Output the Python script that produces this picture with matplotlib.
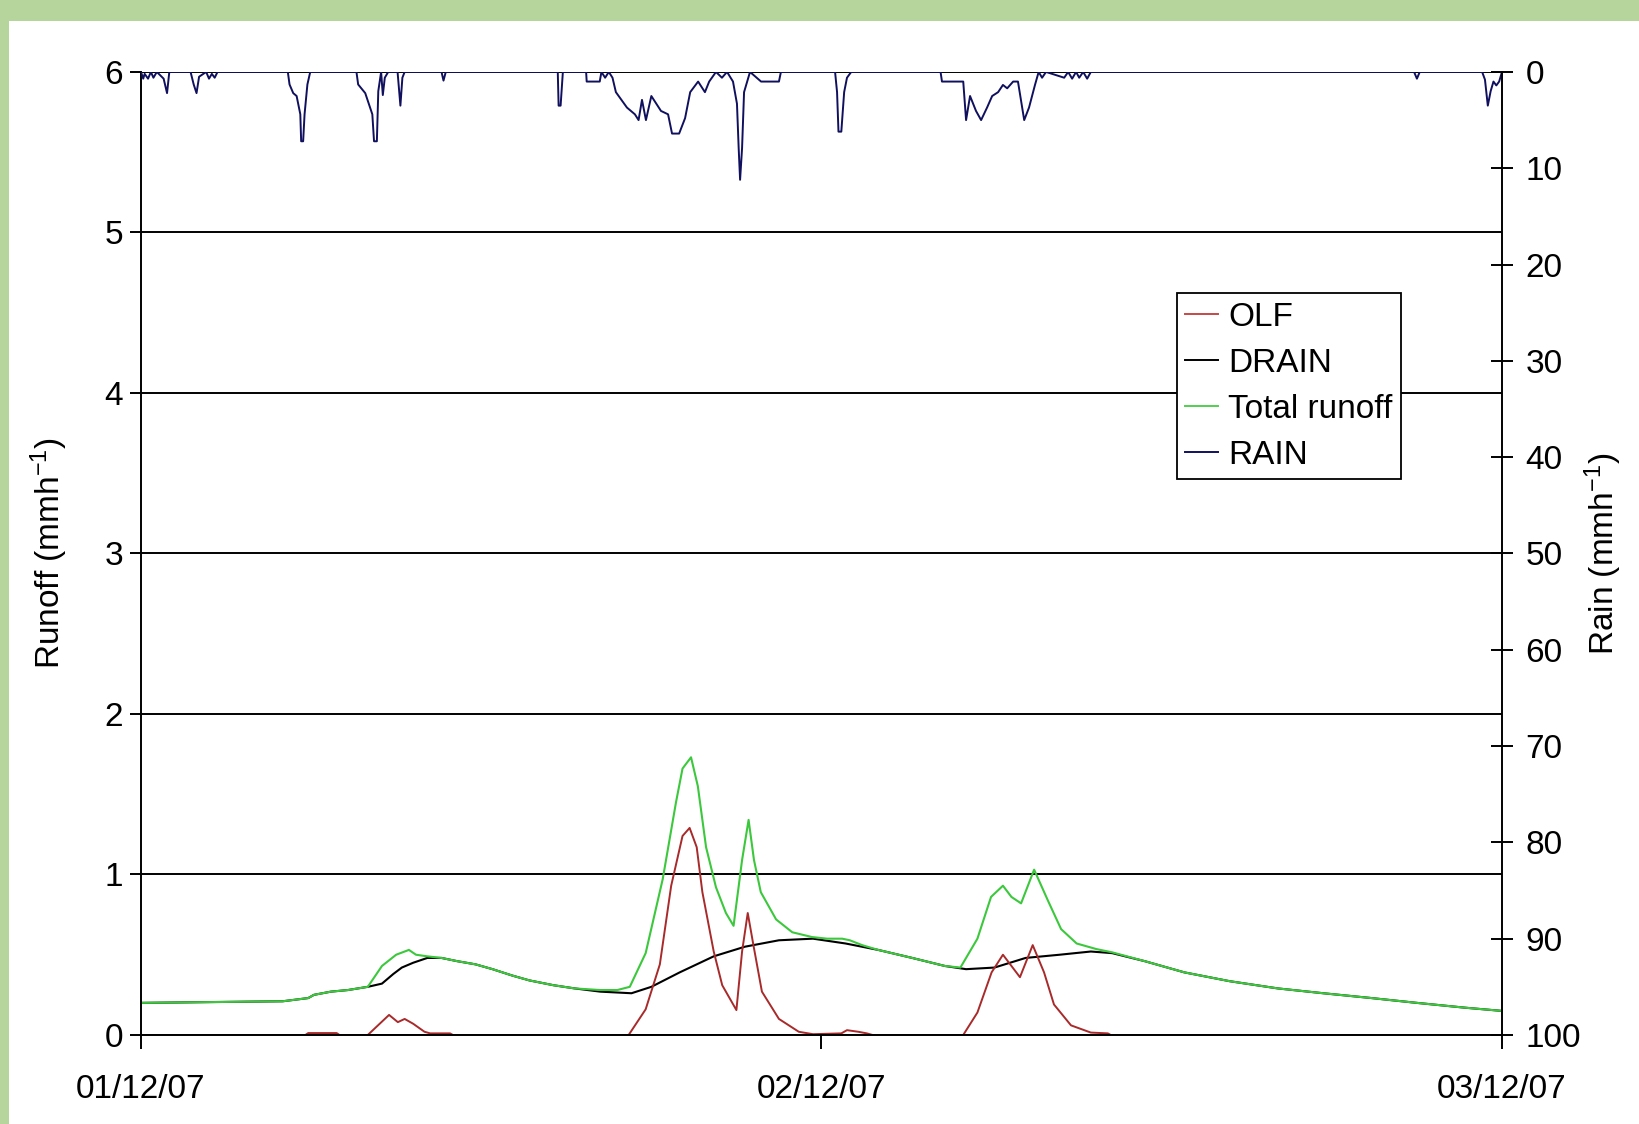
import matplotlib
matplotlib.use('Agg')
import matplotlib.pyplot as plt
from matplotlib.patches import Rectangle
from matplotlib.lines import Line2D

# Runoff data (hours since 01/12/07 00:00, mm/h)
total_t = [0, 5.0, 5.9, 6.1, 6.7, 7.3, 8.0, 8.5, 9.0, 9.45, 9.7, 10.1, 10.6, 11.15, 11.8,
           12.4, 13.1, 13.7, 14.55, 15.3, 16.2, 16.8, 17.24, 17.8, 18.4, 18.87, 19.1, 19.4,
           19.64, 19.93, 20.28, 20.63, 20.9, 21.2, 21.43, 21.62, 21.86, 22.4, 22.97, 23.67,
           24.2, 24.73, 25.0, 25.43, 26.0, 27.2, 28.35, 28.9, 29.5, 29.98, 30.4, 30.7, 31.04,
           31.5, 31.98, 32.45, 33.0, 33.7, 34.25, 35.4, 36.8, 38.4, 40.1, 41.7, 43.4, 45.0,
           46.7, 48.0]
total_v = [0.20, 0.21, 0.23, 0.25, 0.27, 0.28, 0.30, 0.43, 0.50, 0.53, 0.50, 0.49, 0.48, 0.46, 0.44,
           0.41, 0.37, 0.34, 0.31, 0.29, 0.28, 0.28, 0.30, 0.51, 0.97, 1.45, 1.66, 1.73,
           1.55, 1.17, 0.92, 0.76, 0.68, 1.09, 1.34, 1.09, 0.89, 0.72, 0.64, 0.61,
           0.60, 0.60, 0.59, 0.56, 0.53, 0.48, 0.43, 0.42, 0.60, 0.86, 0.93, 0.86, 0.82,
           1.03, 0.84, 0.66, 0.57, 0.535, 0.515, 0.46, 0.39, 0.335, 0.29, 0.26, 0.23, 0.20,
           0.17, 0.15]

drain_t = [0, 5.0, 5.9, 6.1, 6.7, 7.3, 8.0, 8.5, 8.9, 9.2, 9.6, 10.1, 10.6, 11.15, 11.8,
           12.4, 13.1, 13.7, 14.55, 15.3, 16.2, 17.3, 18.0, 19.0, 20.2, 21.3, 22.5, 23.7,
           24.85, 26.0, 27.2, 28.35, 29.1, 30.1, 31.2, 32.4, 33.5, 34.25, 35.4, 36.8, 38.4,
           40.1, 41.7, 43.4, 45.0, 46.7, 48.0]
drain_v = [0.20, 0.21, 0.23, 0.25, 0.27, 0.28, 0.30, 0.32, 0.38, 0.42, 0.45, 0.48, 0.48, 0.46, 0.44,
           0.41, 0.37, 0.34, 0.31, 0.29, 0.27, 0.26, 0.30, 0.39, 0.49, 0.55, 0.59, 0.60,
           0.57, 0.53, 0.48, 0.43, 0.41, 0.42, 0.48, 0.50, 0.52, 0.51, 0.46, 0.39, 0.335,
           0.29, 0.26, 0.23, 0.20, 0.17, 0.15]

olf_t = [0, 5.8, 5.9, 6.9, 7.0, 8.0, 8.3, 8.75, 9.06, 9.3, 9.6, 10.0, 10.2, 10.9, 11.0,
         17.2, 17.8, 18.3, 18.7, 19.1, 19.35, 19.6, 19.8, 20.2, 20.5, 21.0, 21.2, 21.4,
         21.6, 21.9, 22.5, 23.2, 23.7, 24.7, 24.9, 25.3, 25.6, 25.8, 29.0, 29.5, 30.0,
         30.4, 30.7, 31.0, 31.45, 31.85, 32.2, 32.8, 33.5, 34.1, 34.2, 48.0]
olf_v = [0, 0, 0.012, 0.012, 0, 0, 0.05, 0.125, 0.08, 0.10, 0.07, 0.02, 0.01, 0.01, 0,
         0, 0.16, 0.44, 0.93, 1.24, 1.29, 1.17, 0.89, 0.52, 0.31, 0.155, 0.52, 0.76,
         0.56, 0.27, 0.10, 0.02, 0.005, 0.01, 0.03, 0.02, 0.01, 0, 0, 0.14, 0.39,
         0.50, 0.43, 0.36, 0.56, 0.39, 0.19, 0.06, 0.015, 0.01, 0, 0]

# Rain (mm/h), plotted on the inverted right axis
rain_t = [0, 0.08, 0.13, 0.25, 0.35, 0.44, 0.56, 0.8, 0.92, 1.0, 1.75, 1.86, 1.96, 2.05,
          2.3, 2.4, 2.5, 2.6, 2.7, 5.18, 5.24, 5.37, 5.49, 5.62, 5.65, 5.72, 5.77, 5.87,
          5.97, 7.6, 7.66, 7.91, 8.16, 8.22, 8.32, 8.37, 8.47, 8.53, 8.6, 8.72, 9.05, 9.15,
          9.22, 9.3, 10.6, 10.67, 10.75, 14.7, 14.73, 14.8, 14.88, 15.7, 15.72, 16.18, 16.24,
          16.37, 16.5, 16.63, 16.75, 17.14, 17.42, 17.55, 17.67, 17.81, 18.0, 18.34, 18.59,
          18.73, 18.98, 19.19, 19.37, 19.65, 19.89, 20.04, 20.28, 20.49, 20.67, 20.88, 21.02,
          21.08, 21.13, 21.2, 21.27, 21.48, 21.87, 22.5, 22.57, 24.48, 24.55, 24.6, 24.7,
          24.8, 24.9, 25.05, 28.2, 28.25, 29.0, 29.1, 29.24, 29.45, 29.63, 29.84, 30.02,
          30.23, 30.4, 30.55, 30.76, 30.93, 31.15, 31.32, 31.53, 31.66, 31.78, 31.92, 32.56,
          32.7, 32.84, 32.98, 33.09, 33.23, 33.37, 33.5, 44.9, 45.0, 45.1, 47.3, 47.4, 47.5,
          47.6, 47.7, 47.8, 47.9, 48.0]
rain_v = [0, 0.7, 0.2, 0.7, 0, 0.6, 0, 0.7, 2.2, 0, 0, 1.3, 2.2, 0.5,
          0, 0.7, 0.2, 0.6, 0, 0, 1.3, 2.2, 2.5, 4.4, 7.2, 7.2, 4.4, 1.3,
          0, 0, 1.3, 2.2, 4.4, 7.2, 7.2, 2.0, 0, 2.4, 0.6, 0, 0, 3.5,
          0.6, 0, 0, 0.9, 0, 0, 3.5, 3.5, 0, 0, 1.0, 1.0, 0,
          0.6, 0, 0.6, 2.1, 3.7, 4.4, 5.0, 2.9, 5.0, 2.5, 4.05, 4.4,
          6.4, 6.4, 4.8, 2.1, 1.0, 2.1, 1.0, 0, 0.6, 0, 1.0, 3.3,
          7.9, 11.2, 7.9, 2.1, 0, 1.0, 1.0, 0, 0, 2.1, 6.2, 6.2,
          2.1, 0.6, 0, 0, 1.0, 1.0, 5.0, 2.5, 4.05, 5.0, 3.7, 2.5,
          2.1, 1.35, 1.7, 1.0, 1.0, 5.0, 3.7, 1.35, 0, 0.6, 0, 0.6,
          0, 0.7, 0, 0.6, 0, 0.7, 0, 0, 0.7, 0, 0, 0.8, 3.5,
          2.0, 1.0, 1.4, 1.0, 0]

xtick_pos = [0, 24, 48]
xtick_labels = ['01/12/07', '02/12/07', '03/12/07']

plt.rcParams['font.family'] = ['Liberation Sans', 'DejaVu Sans']
plt.rcParams['mathtext.fontset'] = 'custom'
plt.rcParams['mathtext.rm'] = 'Liberation Sans'
plt.rcParams['mathtext.default'] = 'regular'

fig = plt.figure(figsize=(16.39, 11.24), dpi=100)
fig.patch.set_facecolor('#b5d59c')
fig.patches.append(Rectangle((0.0055, 0), 0.9945, 0.981, transform=fig.transFigure,
                             facecolor='white', edgecolor='none', zorder=-5))

ax = fig.add_axes([0.086, 0.0792, 0.8304, 0.8568])
ax.set_facecolor('none')
ax.plot(drain_t, drain_v, color='black', lw=1.5, zorder=2)
ax.plot(total_t, total_v, color='#3cc83c', lw=1.5, zorder=2.1)
ax.plot(olf_t, olf_v, color='#a82a2a', lw=1.4, zorder=2.2)

ax.set_xlim(0, 48)
ax.set_ylim(0, 6)
ax.set_yticks(range(7))
ax.set_xticks(xtick_pos)
ax.set_xticklabels(xtick_labels)
ax.grid(axis='y', color='black', lw=1.4)
for s in ['top', 'right']:
    ax.spines[s].set_visible(False)
for s in ['left', 'bottom']:
    ax.spines[s].set_linewidth(1.4)
ax.tick_params(axis='y', direction='out', length=8, width=1.4, labelsize=24, pad=5)
ax.tick_params(axis='x', direction='out', length=10, width=1.4, labelsize=24, pad=18)
ax.set_ylabel('Runoff (mmh$^{-1}$)', fontsize=24)
ax.yaxis.set_label_coords(-0.052, 0.5)

ax2 = ax.twinx()
ax2.plot(rain_t, rain_v, color='#10105e', lw=1.4)
ax2.set_ylim(100, 0)
ax2.set_yticks(range(0, 101, 10))
for s in ['top', 'left', 'bottom']:
    ax2.spines[s].set_visible(False)
ax2.spines['right'].set_linewidth(1.4)
ax2.tick_params(axis='y', direction='inout', length=16, width=1.4, labelsize=24, pad=9)
ax2.set_ylabel('Rain (mmh$^{-1}$)', fontsize=24)
ax2.yaxis.set_label_coords(1.059, 0.5)

handles = [Line2D([], [], color='#c84848', lw=1.4),
           Line2D([], [], color='black', lw=1.4),
           Line2D([], [], color='#50d050', lw=1.4),
           Line2D([], [], color='#10105e', lw=1.4)]
leg = ax2.legend(handles, ['OLF', 'DRAIN', 'Total runoff', 'RAIN'],
                 loc='upper left', bbox_to_anchor=(0.761, 0.770), borderaxespad=0,
                 fontsize=24, handlelength=1.0, handletextpad=0.3, borderpad=0.25,
                 labelspacing=0.45, fancybox=False, framealpha=1, edgecolor='black')
leg.get_frame().set_linewidth(1.3)

fig.savefig('out.png', dpi=100, facecolor=fig.get_facecolor())
